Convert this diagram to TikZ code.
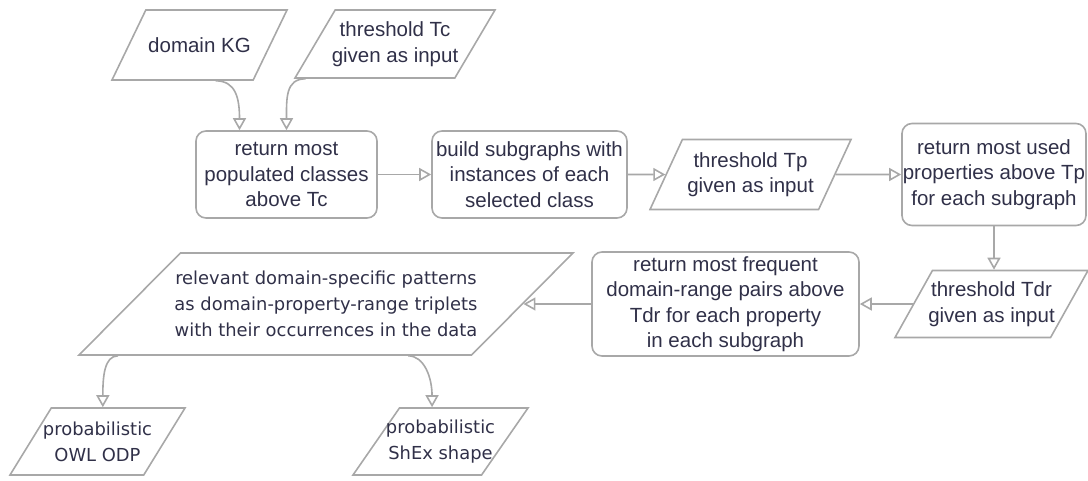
\documentclass[tikz,border=0pt]{standalone}
\usepackage{fontspec}
\setmainfont{Liberation Sans}
\newfontfamily\dvsans{DejaVu Sans}
\usetikzlibrary{shapes.geometric,arrows.meta,positioning}

\definecolor{linegray}{RGB}{168,168,168}
\definecolor{inknavy}{RGB}{48,48,72}

\tikzset{
  base/.style={draw=linegray, line width=1.6pt, text=inknavy, align=center, inner sep=0pt,
    font=\fontsize{20.5}{25.5}\selectfont},
  process/.style={base, rectangle, rounded corners=10pt},
  datain/.style={base, trapezium, trapezium stretches body=true, inner xsep=-15pt,
    trapezium left angle=#1, trapezium right angle={180-#1}},
  datain/.default=50,
  dvtext/.style={font=\dvsans\fontsize{17.9}{26}\selectfont},
  flow/.style={draw=linegray, line width=1.6pt, -{Triangle[open,length=12pt,width=13pt]}}
}

\begin{document}
\begin{tikzpicture}[x=1pt,y=-1pt]
    \useasboundingbox (0,0) rectangle (1088,480);

    \node[datain=24, minimum width=175pt, minimum height=70pt] (kg) at (199.5,45) {domain KG};
    \node[datain=48, minimum width=200pt, minimum height=68pt] (tc) at (395,44) {threshold Tc\\given as input};
    \node[process, minimum width=181pt, minimum height=87pt] (pop) at (286.5,174.5) {return most\\populated classes\\above Tc};
    \node[process, minimum width=195pt, minimum height=87pt] (build) at (529.5,174.5) {build subgraphs with\\instances of each\\selected class};
    \node[datain=54, minimum width=201pt, minimum height=70pt] (tp) at (750.5,174.5) {threshold Tp\\given as input};
    \node[process, minimum width=184pt, minimum height=102pt] (used) at (994,174.5) {return most used\\properties above Tp\\for each subgraph};
    \node[datain=50, minimum width=193pt, minimum height=67pt] (tdr) at (991.5,304) {threshold Tdr\\given as input};
    \node[process, minimum width=267pt, minimum height=104pt] (freq) at (725.5,304) {return most frequent\\domain-range pairs above\\Tdr for each property\\in each subgraph};
    \node[datain=33, dvtext, minimum width=494pt, minimum height=102pt] (rel) at (326,304) {relevant domain-specific patterns\\as domain-property-range triplets\\with their occurrences in the data};
    \node[datain=44, dvtext, minimum width=175pt, minimum height=67pt] (owl) at (97.5,441.5) {probabilistic\\OWL ODP};
    \node[datain=43, dvtext, minimum width=175pt, minimum height=67pt] (shex) at (440.5,441.5) {probabilistic\\ShEx shape};

    \draw[flow] ([xshift=105pt]kg.bottom left corner) .. controls +(20,0) and +(0,-32) .. ([xshift=-47pt]pop.north);
    \draw[flow] ([xshift=12pt]tc.bottom left corner) .. controls +(-20,0) and +(0,-32) .. (pop.north);
    \draw[flow] (pop) -- (build);
    \draw[flow] (build) -- (tp);
    \draw[flow] (tp) -- (used);
    \draw[flow] (used.south) -- (used.south |- tdr.north);
    \draw[flow] (tdr) -- (freq);
    \draw[flow] (freq) -- (rel);
    \draw[flow] ([xshift=41pt]rel.bottom left corner) .. controls +(-14,0) and +(0,-30) .. ([xshift=52pt]owl.top left corner);
    \draw[flow] ([xshift=331pt]rel.bottom left corner) .. controls +(16,0) and +(0,-30) .. ([xshift=33pt]shex.top left corner);
\end{tikzpicture}
\end{document}
